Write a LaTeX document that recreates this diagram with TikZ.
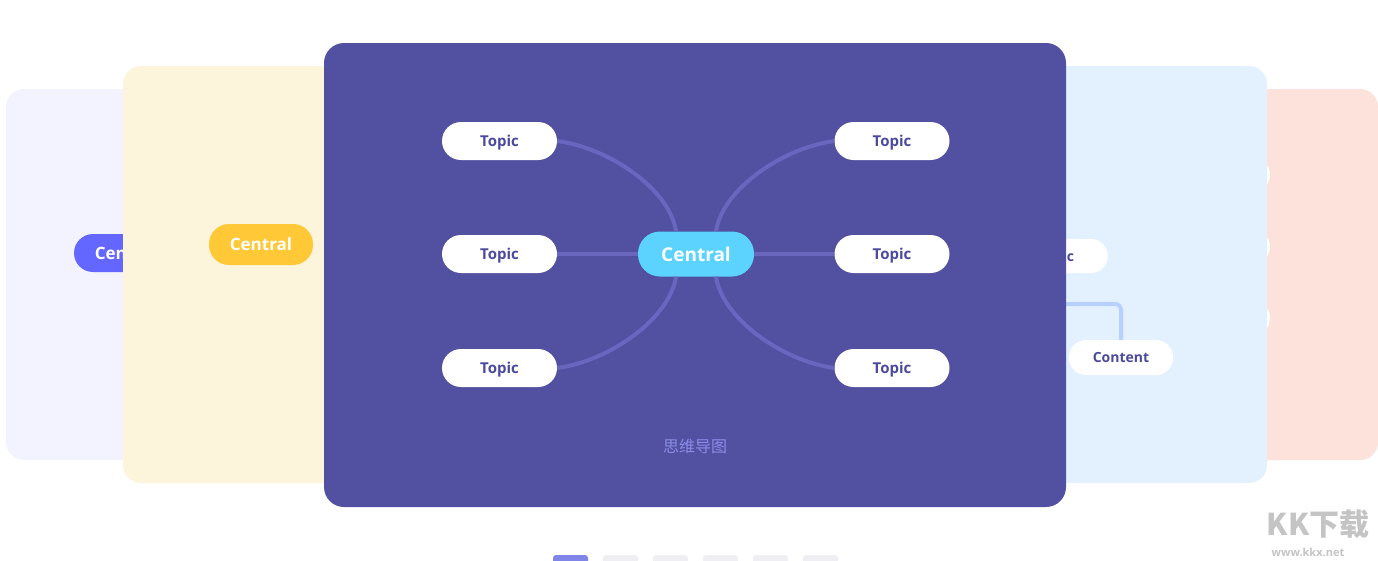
\documentclass[tikz,border=0pt]{standalone}
\usepackage{fontspec}
\setmainfont{Open Sans}
\newfontfamily\cjk{Noto Sans CJK SC}
\usetikzlibrary{calc}
\definecolor{cardLav}{HTML}{F3F3FF}
\definecolor{cardYel}{HTML}{FDF5DB}
\definecolor{cardPur}{HTML}{5150A1}
\definecolor{cardBlu}{HTML}{E3F1FF}
\definecolor{cardPnk}{HTML}{FDE2DC}
\definecolor{nodeLav}{HTML}{6366FF}
\definecolor{nodeYel}{HTML}{FFC837}
\definecolor{nodeCyan}{HTML}{5CD3FF}
\definecolor{txtPur}{HTML}{4B4A9E}
\definecolor{linkPur}{HTML}{6966C0}
\definecolor{linkBlu}{HTML}{B8D0FF}
\definecolor{capPur}{HTML}{8C8CE8}
\definecolor{dotOn}{HTML}{7F86E8}
\definecolor{dotOff}{HTML}{EEEEF3}
\definecolor{wm}{HTML}{C4C4C4}
\tikzset{
  card/.style={rounded corners=18pt},
  topicbox/.style={fill=white, rounded corners=19pt, minimum width=115pt, minimum height=38pt,
    inner sep=0pt, text depth=0pt, text=txtPur, font=\bfseries\fontsize{15}{18}\selectfont},
  smallbox/.style={fill=white, rounded corners=17pt, minimum width=104pt, minimum height=34pt,
    inner sep=0pt, text depth=0pt, text=txtPur, font=\bfseries\fontsize{14}{17}\selectfont},
  mainbox/.style={rounded corners=22pt, minimum width=116pt, minimum height=45pt, inner sep=0pt,
    text depth=0pt, text=white, font=\bfseries\fontsize{19}{22}\selectfont},
  sidebox/.style={rounded corners=19pt, minimum width=104pt, minimum height=38pt, inner sep=0pt,
    text depth=0pt, text=white, font=\bfseries\fontsize{17}{20}\selectfont},
  link/.style={draw=linkPur, line width=4pt},
  bluelink/.style={draw=linkBlu, line width=4pt, rounded corners=6pt},
  pager/.style={rounded corners=3pt},
}
\begin{document}
\begin{tikzpicture}[x=1pt,y=-1pt]
\useasboundingbox (0,0) rectangle (1378,560);
\fill[white] (0,0) rectangle (1378,560);
% leftmost lavender card
\fill[cardLav, card] (6,89) rectangle (400,460);
\node[sidebox, fill=nodeLav] (lavc) at (126,253) {Central};
% yellow card
\fill[cardYel, card] (123,66) rectangle (500,483);
\node[sidebox, fill=nodeYel, minimum width=104pt, minimum height=41pt, rounded corners=20pt] (yelc) at (261,244.5) {Central};
% pink card
\fill[cardPnk, card] (1000,89) rectangle (1378,460);
\node[fill=white, rounded corners=18pt, minimum width=100pt, minimum height=36pt] (p1) at (1220,175) {};
\node[fill=white, rounded corners=18pt, minimum width=100pt, minimum height=36pt] (p2) at (1220,247) {};
\node[fill=white, rounded corners=18pt, minimum width=100pt, minimum height=36pt] (p3) at (1220,318) {};
% light blue card
\fill[cardBlu, card] (900,66) rectangle (1267,483);
\node[smallbox] (btopic) at (1056,256) {Topic};
\node[smallbox, minimum height=35pt] (bcont) at (1121,357.5) {Content};
\coordinate (bsrc) at (1030,304);
\draw[bluelink] (bsrc) -| (bcont.north);
% central purple card
\fill[cardPur, rounded corners=20pt] (324,43) rectangle (1066,507);
\node[mainbox, fill=nodeCyan] (c) at (696,254) {Central};
\node[topicbox] (tl) at (499.5,141) {Topic};
\node[topicbox] (ml) at (499.5,254) {Topic};
\node[topicbox] (bl) at (499.5,368) {Topic};
\node[topicbox] (tr) at (892,141) {Topic};
\node[topicbox] (mr) at (892,254) {Topic};
\node[topicbox] (br) at (892,368) {Topic};
\draw[link] (tl.east) .. controls (610,148) and (670,190) .. ($(c.north)+(-20,0)$);
\draw[link] (bl.east) .. controls (610,361) and (670,318) .. ($(c.south)+(-20,0)$);
\draw[link] (tr.west) .. controls (782,148) and (722,190) .. ($(c.north)+(20,0)$);
\draw[link] (br.west) .. controls (782,361) and (722,318) .. ($(c.south)+(20,0)$);
\draw[link] (ml.east) -- (c.west);
\draw[link] (c.east) -- (mr.west);
\node[text=capPur, font=\cjk\fontsize{16}{19}\selectfont] (cap) at (695,446) {思维导图};
% pager
\fill[dotOn, pager] (553,555) rectangle (588,564);
\fill[dotOff, pager] (603,555) rectangle (638,564);
\fill[dotOff, pager] (653,555) rectangle (688,564);
\fill[dotOff, pager] (703,555) rectangle (738,564);
\fill[dotOff, pager] (753,555) rectangle (788,564);
\fill[dotOff, pager] (803,555) rectangle (838,564);
% watermark
\node[text=wm, font=\cjk\bfseries\fontsize{30}{32}\selectfont] (wm1) at (1318,524) {KK下载};
\node[text=wm, font=\bfseries\fontsize{11}{13}\selectfont] (wm2) at (1308,552) {www.kkx.net};
\end{tikzpicture}
\end{document}
